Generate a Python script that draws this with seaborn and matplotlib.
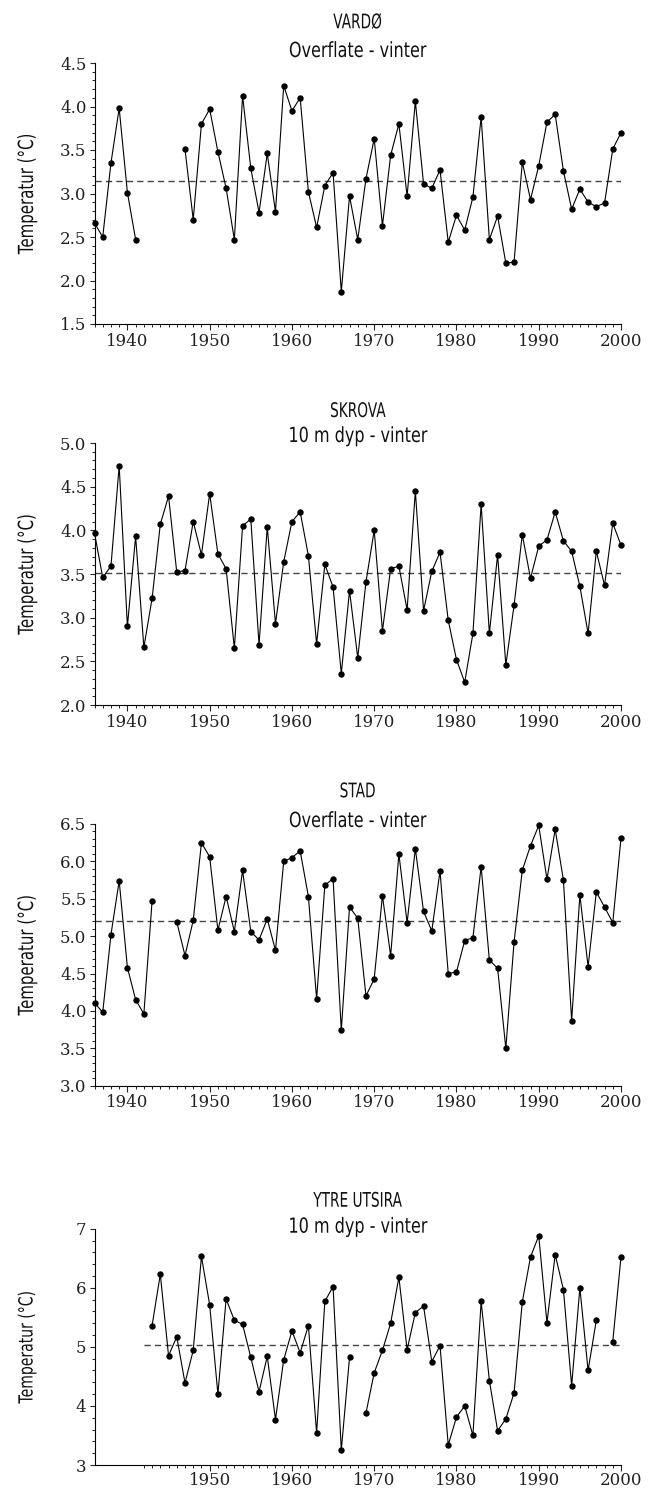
import matplotlib

matplotlib.use("Agg")

import matplotlib.pyplot as plt
import numpy as np
import pandas as pd
import seaborn as sns
from matplotlib import patheffects
from matplotlib.ticker import FixedLocator, MultipleLocator, FormatStrFormatter
from matplotlib.transforms import Affine2D

nan = np.nan

# winter temperatures, one value per year (nan = no data)
VARDO_YEARS = list(range(1936, 2001))
VARDO_TEMP = [
    2.66, 2.50, 3.35, 3.98, 3.01, 2.47, nan, nan, nan, nan, nan,
    3.51, 2.70, 3.80, 3.97, 3.48, 3.06, 2.47, 4.12, 3.29, 2.78, 3.46, 2.79, 4.24,
    3.95, 4.10, 3.02, 2.61, 3.09, 3.24, 1.87, 2.97, 2.47, 3.17, 3.63, 2.63, 3.44,
    3.80, 2.97, 4.06, 3.11, 3.06, 3.27, 2.44, 2.75, 2.58, 2.96, 3.88, 2.47, 2.74,
    2.20, 2.21, 3.36, 2.93, 3.32, 3.82, 3.91, 3.26, 2.82, 3.05, 2.90, 2.85, 2.89,
    3.51, 3.70,
]
VARDO_MEAN = 3.14

SKROVA_YEARS = list(range(1936, 2001))
SKROVA_TEMP = [
    3.97, 3.46, 3.59, 4.74, 2.90, 3.93, 2.66, 3.22, 4.07, 4.39, 3.52, 3.54, 4.10,
    3.72, 4.42, 3.73, 3.56, 2.65, 4.05, 4.13, 2.69, 4.04, 2.93, 3.64, 4.10, 4.21,
    3.71, 2.70, 3.61, 3.35, 2.36, 3.31, 2.54, 3.41, 4.00, 2.85, 3.56, 3.59, 3.09,
    4.45, 3.08, 3.53, 3.75, 2.97, 2.52, 2.26, 2.82, 4.30, 2.82, 3.72, 2.46, 3.14,
    3.95, 3.45, 3.82, 3.89, 4.21, 3.88, 3.76, 3.36, 2.82, 3.76, 3.37, 4.08, 3.83,
]
SKROVA_MEAN = 3.51

STAD_YEARS = list(range(1936, 2001))
STAD_TEMP = [
    4.11, 3.98, 5.02, 5.74, 4.58, 4.15, 3.96, 5.47, nan, nan,
    5.19, 4.74, 5.21, 6.25, 6.06, 5.08, 5.53, 5.06, 5.88, 5.06, 4.95, 5.23, 4.81,
    6.00, 6.05, 6.14, 5.53, 4.16, 5.68, 5.77, 3.74, 5.39, 5.24, 4.20, 4.43, 5.54,
    4.74, 6.10, 5.18, 6.17, 5.33, 5.07, 5.87, 4.50, 4.52, 4.94, 4.98, 5.93, 4.68,
    4.57, 3.50, 4.92, 5.88, 6.21, 6.48, 5.76, 6.43, 5.75, 3.87, 5.55, 4.59, 5.59,
    5.39, 5.18, 6.31,
]
STAD_MEAN = 5.20

UTSIRA_YEARS = list(range(1943, 2001))
UTSIRA_TEMP = [
    5.36, 6.23, 4.85, 5.17, 4.39, 4.94, 6.53, 5.71, 4.20, 5.81, 5.45, 5.38, 4.82,
    4.24, 4.84, 3.77, 4.78, 5.27, 4.90, 5.36, 3.54, 5.77, 6.02, 3.25, 4.82, nan,
    3.88, 4.56, 4.94, 5.40, 6.18, 4.95, 5.58, 5.69, 4.75, 5.02, 3.34, 3.81, 4.00,
    3.50, 5.77, 4.43, 3.58, 3.78, 4.22, 5.76, 6.52, 6.88, 5.41, 6.56, 5.97, 4.34,
    6.00, 4.60, 5.45, nan, 5.09, 6.52,
]
UTSIRA_MEAN = 5.03

NAMES = ["VARDØ", "SKROVA", "STAD", "YTRE UTSIRA"]
SUBTITLES = ["Overflate - vinter", "10 m dyp - vinter", "Overflate - vinter", "10 m dyp - vinter"]
YLIMS = [(1.5, 4.5), (2.0, 5.0), (3.0, 6.5), (3, 7)]

W, H = 654, 1488
AX_LEFT, AX_RIGHT = 94.5, 621.0
# top / bottom of each axes in pixels from the top of the image
AX_TOPS = [63.0, 443.0, 824.0, 1228.7]
AX_BOTTOMS = [324.0, 705.0, 1085.7, 1465.0]
TITLE_OFF = [34.7, 26.0, 26.7, 22.0]
SUB_OFF = [6.0, 1.0, -3.0, -4.0]
YLABEL_SIZE = [15.0, 15.0, 15.0, 14.0]
XLABEL_PAD = [2, 2, 2, 0.5]

SANS = "DejaVu Sans"
SERIF = "DejaVu Serif"


class Squeeze(patheffects.AbstractPathEffect):
    """Draw text glyphs narrower, to imitate a condensed face."""

    def __init__(self, sx: float):
        super().__init__()
        self.sx = sx

    def draw_path(self, renderer, gc, tpath, affine, rgbFace=None):
        ext = tpath.get_extents()
        cx = (ext.x0 + ext.x1) / 2
        squeeze = Affine2D().translate(-cx, 0).scale(self.sx, 1).translate(cx, 0)
        renderer.draw_path(gc, tpath, squeeze + affine, rgbFace)


def to_frame(years, temps) -> pd.DataFrame:
    df = pd.DataFrame({"year": years, "temp": temps})
    df["segment"] = df["temp"].isna().cumsum()
    return df.dropna()


def style_axes(ax, idx: int) -> None:
    ax.spines["top"].set_visible(False)
    ax.spines["right"].set_visible(False)
    for side in ["left", "bottom"]:
        ax.spines[side].set_color("black")
        ax.spines[side].set_linewidth(0.8)
    ax.set_xlim(1936, 2000)
    ax.set_ylim(*YLIMS[idx])
    if idx == 3:
        ax.xaxis.set_major_locator(FixedLocator(range(1950, 2001, 10)))
        ax.xaxis.set_minor_locator(FixedLocator(range(1942, 2001)))
        ax.yaxis.set_major_locator(MultipleLocator(1))
        ax.yaxis.set_minor_locator(MultipleLocator(0.2))
        ax.yaxis.set_major_formatter(FormatStrFormatter("%d"))
    else:
        ax.xaxis.set_major_locator(FixedLocator(range(1940, 2001, 10)))
        ax.xaxis.set_minor_locator(FixedLocator(range(1936, 2001)))
        ax.yaxis.set_major_locator(MultipleLocator(0.5))
        ax.yaxis.set_minor_locator(MultipleLocator(0.1))
        ax.yaxis.set_major_formatter(FormatStrFormatter("%.1f"))
    ax.tick_params(axis="y", which="major", direction="out", length=3.8, width=0.8, pad=2)
    ax.tick_params(axis="y", which="minor", direction="out", length=2.0, width=0.7)
    ax.tick_params(axis="x", which="major", direction="out", length=4.3, width=0.8, pad=XLABEL_PAD[idx])
    ax.tick_params(axis="x", which="minor", direction="out", length=2.4, width=0.7)
    for lab in ax.get_xticklabels() + ax.get_yticklabels():
        lab.set_fontfamily(SERIF)
        lab.set_fontsize(12)
        lab.set_color("#222222")
    ax.set_xlabel("")
    ax.set_ylabel("")
    ax.grid(False)


def main() -> None:
    sns.set_theme(style="ticks")
    plt.rcParams["font.family"] = [SANS]
    fig = plt.figure(figsize=(W / 100, H / 100), dpi=100)

    series = [
        (VARDO_YEARS, VARDO_TEMP, VARDO_MEAN, 1936),
        (SKROVA_YEARS, SKROVA_TEMP, SKROVA_MEAN, 1936),
        (STAD_YEARS, STAD_TEMP, STAD_MEAN, 1936),
        (UTSIRA_YEARS, UTSIRA_TEMP, UTSIRA_MEAN, 1942),
    ]

    for idx, (years, temps, mean, mean_start) in enumerate(series):
        top, bottom = AX_TOPS[idx], AX_BOTTOMS[idx]
        height_px = bottom - top
        ax = fig.add_axes([AX_LEFT / W, 1 - bottom / H, (AX_RIGHT - AX_LEFT) / W, height_px / H])
        ax.hlines(mean, mean_start, 2000, colors="#444444", linewidth=1.0, linestyles=(0, (4.5, 3)))
        sns.lineplot(
            data=to_frame(years, temps), x="year", y="temp", units="segment", estimator=None,
            color="black", linewidth=0.8, marker="o", markersize=4.6, markeredgewidth=0,
            clip_on=False, legend=False, ax=ax,
        )
        style_axes(ax, idx)
        ax.text(0.5, 1 + TITLE_OFF[idx] / height_px, NAMES[idx], transform=ax.transAxes,
                ha="center", va="baseline", fontsize=14.5, color="#111111",
                path_effects=[Squeeze(0.68)])
        ax.text(0.5, 1 + SUB_OFF[idx] / height_px, SUBTITLES[idx], transform=ax.transAxes,
                ha="center", va="baseline", fontsize=15, color="#111111",
                path_effects=[Squeeze(0.77)])
        ax.text((27 - AX_LEFT) / (AX_RIGHT - AX_LEFT), 0.5, "Temperatur (°C)", transform=ax.transAxes,
                rotation=90, ha="center", va="center", fontsize=YLABEL_SIZE[idx], color="#111111",
                path_effects=[Squeeze(0.72)])

    fig.savefig("out.png", dpi=100)
    plt.close(fig)


if __name__ == "__main__":
    main()
